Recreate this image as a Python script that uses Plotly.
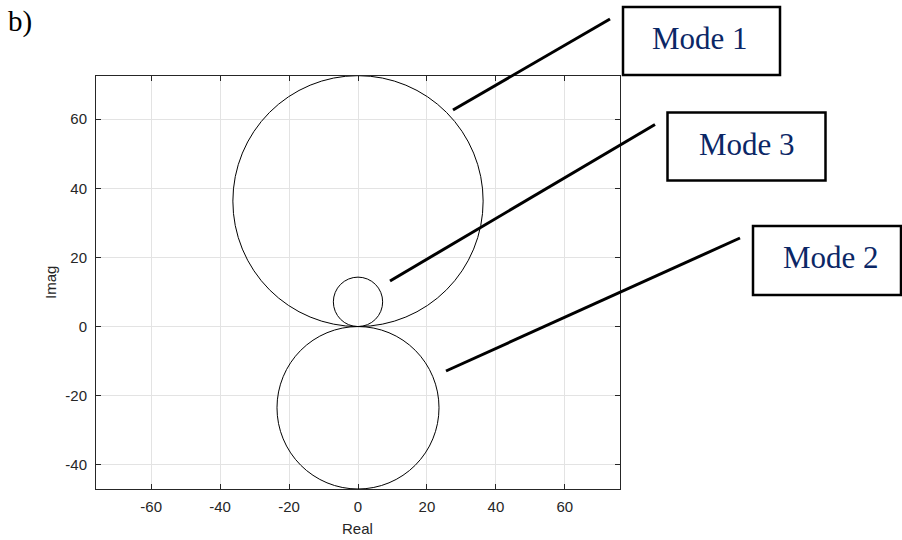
import plotly.graph_objects as go

# Mode circles in the complex plane (all pass through the origin)
mode_names = ["Mode 1", "Mode 2", "Mode 3"]
center_real = [0.0, 0.0, 0.0]
center_imag = [36.3, -23.5, 7.15]
radius = [36.3, 23.5, 7.15]

x_ticks = [-60, -40, -20, 0, 20, 40, 60]
x_tick_text = ["-60", "-40", "-20", "0", "20", "40", "60"]
y_ticks = [-40, -20, 0, 20, 40, 60]
y_tick_text = ["-40", "-20", "0", "20", "40", "60"]
x_range = [-76, 76]
y_range = [-47.0, 72.5]

W, H = 902, 540
L, R, T, B = 96, 282, 76, 51
PW, PH = W - L - R, H - T - B


def px(x):
    return (x - L) / PW


def py(y):
    return (H - B - y) / PH


fig = go.Figure()
# invisible anchor trace so the axes are built from the data scale
fig.add_trace(go.Scatter(x=center_real, y=center_imag, mode="markers",
                         marker=dict(size=1, opacity=0), hoverinfo="skip",
                         showlegend=False))

shapes = []
for cx, cy, r in zip(center_real, center_imag, radius):
    shapes.append(dict(type="circle", xref="x", yref="y",
                       x0=cx - r, x1=cx + r, y0=cy - r, y1=cy + r,
                       line=dict(color="black", width=1), layer="above"))

# label boxes (pixel positions) and leader lines
boxes = {
    "Mode 1": dict(box=(623, 7, 780, 75), text=(700, 39), line=((453, 110), (610, 19))),
    "Mode 3": dict(box=(667.5, 112.5, 825.5, 180.5), text=(746.5, 144), line=((390, 281), (655, 124.5))),
    "Mode 2": dict(box=(753, 226, 901, 295), text=(831, 257), line=((446, 371), (740, 238))),
}

annotations = []
for name in mode_names:
    b = boxes[name]
    x0, y0, x1, y1 = b["box"]
    shapes.append(dict(type="rect", xref="paper", yref="paper",
                       x0=px(x0), x1=px(x1), y0=py(y1), y1=py(y0),
                       line=dict(color="black", width=2.5), fillcolor="white",
                       layer="above"))
    (lx0, ly0), (lx1, ly1) = b["line"]
    shapes.append(dict(type="line", xref="paper", yref="paper",
                       x0=px(lx0), y0=py(ly0), x1=px(lx1), y1=py(ly1),
                       line=dict(color="black", width=3), layer="above"))
    tx, ty = b["text"]
    annotations.append(dict(text=name, xref="paper", yref="paper",
                            x=px(tx), y=py(ty), xanchor="center", yanchor="middle",
                            showarrow=False,
                            font=dict(family="Liberation Serif, Times New Roman, serif",
                                      size=31, color="#0b2766")))

annotations.append(dict(text="b)", xref="paper", yref="paper",
                        x=px(6), y=py(22), xanchor="left", yanchor="middle",
                        showarrow=False,
                        font=dict(family="Liberation Serif, Times New Roman, serif",
                                  size=29, color="black")))

# axis titles placed as text
label_font = dict(family="Liberation Sans, Arial, sans-serif", size=15, color="#262626")
annotations.append(dict(text="Real", xref="paper", yref="paper",
                        x=px(357.5), y=py(528), xanchor="center", yanchor="middle",
                        showarrow=False, font=label_font))
annotations.append(dict(text="Imag", xref="paper", yref="paper",
                        x=px(50), y=py(283), xanchor="center", yanchor="middle",
                        textangle=-90, showarrow=False, font=label_font))

axis_common = dict(showgrid=True, gridcolor="#e3e3e3", gridwidth=1,
                   zeroline=False, showline=True, linecolor="#262626", linewidth=1,
                   mirror="ticks", ticks="inside", ticklen=5, tickcolor="#262626",
                   automargin=False,
                   tickfont=dict(family="Liberation Sans, Arial, sans-serif",
                                 size=15, color="#262626"))

fig.update_layout(
    width=W, height=H,
    margin=dict(l=L, r=R, t=T, b=B, pad=0, autoexpand=False),
    paper_bgcolor="white", plot_bgcolor="white",
    shapes=shapes, annotations=annotations,
    xaxis=dict(range=x_range, tickvals=x_ticks, ticktext=x_tick_text,
               ticklabelstandoff=4, **axis_common),
    yaxis=dict(range=y_range, tickvals=y_ticks, ticklabelstandoff=5, **axis_common,
               ticktext=y_tick_text),
    showlegend=False,
)

fig.write_html("out.html")
